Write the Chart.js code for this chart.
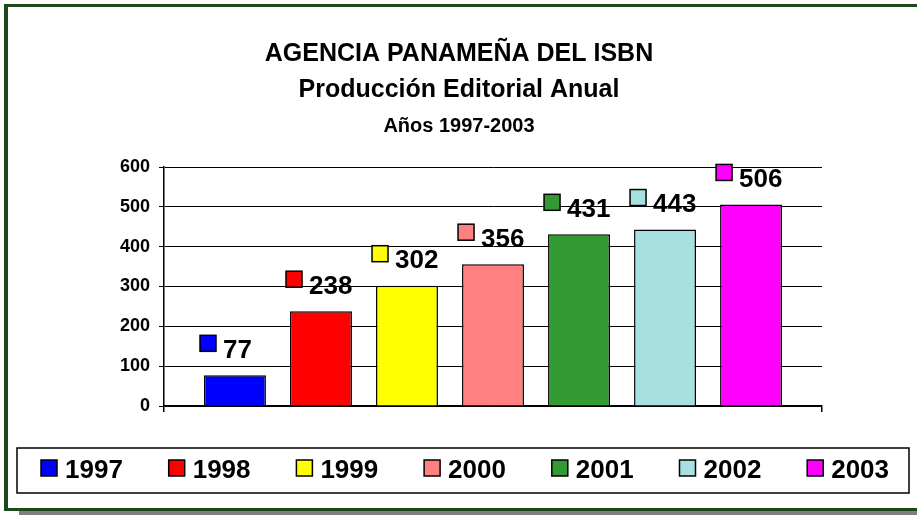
<!DOCTYPE html>
<html>
<head>
<meta charset="utf-8">
<script src="https://cdn.jsdelivr.net/npm/chart.js@4/dist/chart.umd.min.js"></script>
<style>
  html, body { margin: 0; padding: 0; background: #fff; }
  #wrap { width: 917px; height: 515px; }
</style>
</head>
<body>
<div id="wrap"><canvas id="c" width="917" height="515"></canvas></div>
<script>
// ---- Data ----
const years = ['1997', '1998', '1999', '2000', '2001', '2002', '2003'];
const values = [77, 238, 302, 356, 431, 443, 506];
const colors = ['#0000FF', '#FF0000', '#FFFF00', '#FF8080', '#339933', '#A6E0E0', '#FF00FF'];
const yTicks = [0, 100, 200, 300, 400, 500, 600];
const titleLines = ['AGENCIA PANAMEÑA DEL ISBN', 'Producción Editorial Anual'];
const subtitleText = 'Años 1997-2003';

const FONT = '"Liberation Sans", Arial, Helvetica, sans-serif';
Chart.defaults.font.family = FONT;
Chart.defaults.color = '#000';

const datasets = years.map((y, i) => ({
  label: y,
  data: [values[i]],
  backgroundColor: colors[i],
  borderColor: '#000',
  borderWidth: 1.5,
  categoryPercentage: 0.915,
  barPercentage: 0.72
}));

// Frame (outer green border + shadow)
const framePlugin = {
  id: 'frame',
  beforeDraw(chart) {
    const ctx = chart.ctx;
    ctx.save();
    ctx.fillStyle = '#fff';
    ctx.fillRect(0, 0, chart.width, chart.height);
    ctx.fillStyle = '#808080';
    ctx.fillRect(19, 511, chart.width - 19, 4);
    ctx.fillStyle = '#1c481c';
    ctx.fillRect(4, 4, chart.width - 4, 3);
    ctx.fillRect(4, 4, 4, 507);
    ctx.fillRect(4, 508, chart.width - 4, 3);
    ctx.restore();
  }
};

// Data labels: legend-key square + value above each bar
const labelPlugin = {
  id: 'valueLabels',
  afterDatasetsDraw(chart) {
    const ctx = chart.ctx;
    ctx.save();
    chart.data.datasets.forEach((ds, i) => {
      const bar = chart.getDatasetMeta(i).data[0];
      const left = bar.x - bar.width / 2 - 4;
      const cy = bar.y - 32;
      ctx.fillStyle = ds.backgroundColor;
      ctx.fillRect(left, cy - 8, 16, 16);
      ctx.strokeStyle = '#000';
      ctx.lineWidth = 1.5;
      ctx.strokeRect(left, cy - 8, 16, 16);
      ctx.fillStyle = '#000';
      ctx.font = 'bold 26px ' + FONT;
      ctx.textAlign = 'left';
      ctx.textBaseline = 'alphabetic';
      ctx.fillText(String(ds.data[0]), left + 23, bar.y - 17.5);
    });
    ctx.restore();
  }
};

// Legend box at the bottom
const legendPlugin = {
  id: 'bottomLegend',
  afterDraw(chart) {
    const ctx = chart.ctx;
    ctx.save();
    ctx.strokeStyle = '#000';
    ctx.lineWidth = 1.5;
    ctx.strokeRect(17, 448, 892, 45);
    const step = 127.7;
    chart.data.datasets.forEach((ds, i) => {
      const x = 41 + i * step;
      ctx.fillStyle = ds.backgroundColor;
      ctx.fillRect(x, 460, 16, 16);
      ctx.strokeStyle = '#000';
      ctx.lineWidth = 1.5;
      ctx.strokeRect(x, 460, 16, 16);
      ctx.fillStyle = '#000';
      ctx.font = 'bold 26px ' + FONT;
      ctx.textAlign = 'left';
      ctx.textBaseline = 'alphabetic';
      ctx.fillText(ds.label, x + 24, 478);
    });
    ctx.restore();
  }
};

new Chart(document.getElementById('c'), {
  type: 'bar',
  data: { labels: [''], datasets },
  options: {
    responsive: false,
    animation: false,
    devicePixelRatio: 1,
    layout: { padding: { left: 96, right: 95, top: 0, bottom: 99 } },
    plugins: {
      legend: { display: false },
      tooltip: { enabled: false },
      title: {
        display: true,
        text: titleLines,
        font: { size: 25, weight: 'bold', lineHeight: 1.44 },
        color: '#000',
        padding: { top: 36, bottom: 0 }
      },
      subtitle: {
        display: true,
        text: subtitleText,
        font: { size: 20, weight: 'bold', lineHeight: 1.2 },
        color: '#000',
        padding: { top: 6, bottom: 29 }
      }
    },
    scales: {
      x: {
        type: 'category',
        offset: true,
        border: { display: true, color: '#000', width: 1.5 },
        grid: { display: true, drawOnChartArea: false, drawTicks: true, tickLength: 6, color: '#000', lineWidth: 1.5, offset: true },
        ticks: { display: false },
        afterFit(scale) { scale.height = 10; }
      },
      y: {
        min: 0,
        max: 600,
        afterBuildTicks(scale) { scale.ticks = yTicks.map(v => ({ value: v })); },
        border: { display: true, color: '#000', width: 1.5 },
        grid: { color: '#000', lineWidth: 1, tickLength: 5, drawTicks: true },
        ticks: { font: { size: 18, weight: 'bold' }, color: '#000', padding: 9 },
        afterFit(scale) { scale.width = 68; }
      }
    }
  },
  plugins: [framePlugin, labelPlugin, legendPlugin]
});
</script>
</body>
</html>
